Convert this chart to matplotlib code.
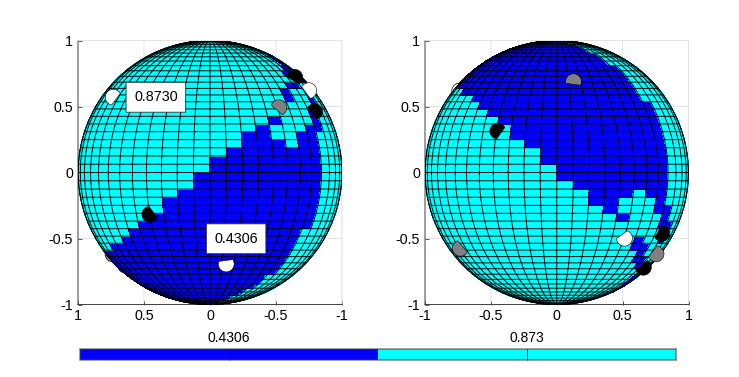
import numpy as np
import matplotlib
matplotlib.use("Agg")
import matplotlib.pyplot as plt
from matplotlib.colors import ListedColormap

plt.rcParams['font.family'] = ['Liberation Sans', 'DejaVu Sans']
plt.rcParams['axes.unicode_minus'] = False
plt.rcParams['path.snap'] = False

W, H = 739, 377
BLUE, CYAN = '#0000ff', '#00ffff'

# Mesh: rows from north (k=24) to south (k=-25), each a list of blue spans in longitude-line indices
left_north = [[], [], [], [], [], [], [], [(11, 13)], [(10, 12)], [(10, 12)], [(9, 12)], [(8, 12)],
              [(9, 13)], [(7, 9)], [(6, 7)], [(6, 7), (9, 10)], [(9, 10)], [(8, 9)], [(4, 5), (8, 9)],
              [(3, 4), (7, 9)], [(2, 4), (6, 8)], [(2, 5), (6, 8)], [(1, 8)], [(0, 8)], [(0, 8)]]
left_south = [[(-1, 8)], [(-1, 8)], [(-2, 8)], [(-3, 8)], [(-3, 8)], [(-4, 8)], [(-5, 8)], [(-6, 7)],
              [(-7, 7)], [(-9, 7)], [(-13, 7)], [(-13, 7)], [(-13, 7)], [(-13, 7)], [(-13, 6)],
              [(-13, 6)], [(-13, 6)], [(-13, 5)], [(-13, 5)], [(-13, 4)], [(-13, 4)], [(-13, 3)],
              [(-13, 3)], [(-13, 2)], [(-13, -1)]]
right_north = [[(-13, 1)], [(-13, 2)], [(-13, 3)], [(-13, 4)], [(-13, 5)], [(-13, 5)], [(-13, 5)],
               [(-13, 6)], [(-13, 6)], [(-13, 6)], [(-13, 7)], [(-13, 7)], [(-13, 7)], [(-13, 7)],
               [(-9, 7)], [(-7, 7)], [(-6, 8)], [(-5, 8)], [(-4, 8)], [(-3, 8)], [(-3, 8)], [(-2, 8)],
               [(-1, 8)], [(-1, 8)], [(0, 8)]]
right_south = [[(0, 8)], [(1, 8)], [(2, 5), (6, 8)], [(2, 4), (7, 8)], [(3, 4), (7, 9)], [(4, 5), (8, 9)],
               [(8, 10)], [(9, 10)], [(6, 7), (9, 10)], [(6, 8)], [(7, 8)], [(7, 9)], [(8, 9)],
               [(10, 12)], [(10, 12)], [(10, 12)], [(11, 13)], [(11, 13)], [], [], [], [], [], [], []]

# Caps: x, y, arc start, arc end (degrees on screen), colour
left_caps = [(.733, .570, 28, 258, 'white'), (-.642, .721, -58, 175, 'black'), (-.748, .620, -79, 152, 'white'),
             (-.521, .491, -63, 162, 'gray'), (-.792, .461, -76, 150, 'black'), (.456, -.317, 96, 338, 'black'),
             (-.123, -.693, 161, 394, 'white')]
left_hidden = [(.735, -.617, 'gray'), (.639, -.702, 'black')]
right_caps = [(.127, .688, -27, 192, 'gray'), (-.448, .314, 27, 262, 'black'), (-.731, -.574, 109, 331, 'gray'),
              (.514, -.498, 182, 430, 'white'), (.797, -.461, 210, 451, 'black'), (.754, -.617, 201, 444, 'gray'),
              (.658, -.718, 194, 420, 'black')]
right_hidden = [(-.737, .617, 'white'), (-.624, .692, 'black')]

tick_values = [-1, -.5, 0, .5, 1]
tick_labels = ['-1', '-0.5', '0', '0.5', '1']
bar_values = ['0.4306', '0.873']
left_labels = [(.41, .57, '0.8730'), (-.198, -.502, '0.4306')]
CAP_R = .06

lon_lines = np.clip(np.arange(-13, 14) * 7.2, -90, 90)
lat_lines = np.arange(-25, 26) * 3.6


def axes_px(x0, x1, y0, y1):
    return fig.add_axes([x0 / W, 1 - y1 / H, (x1 - x0) / W, (y1 - y0) / H])


def grid_colors(north, south):
    m = np.zeros((50, 26))
    # north[0] is k=24 ... north[24] is k=0; south[0] is k=-1 ... south[24] is k=-25
    for i, spans in enumerate(north):
        r = 25 + (24 - i)
        for a, b in spans:
            m[r, a + 13:b + 13] = 1
    for n, spans in enumerate(south):
        r = 24 - n
        for a, b in spans:
            m[r, a + 13:b + 13] = 1
    return m


def draw(ax, north, south, caps, hidden, flip):
    sign = -1 if flip else 1
    u, v = np.meshgrid(np.radians(lon_lines), np.radians(lat_lines))
    X = sign * np.cos(v) * np.sin(u)
    Y = np.sin(v)
    for hx, hy, c in hidden:
        t = np.radians(np.linspace(0, 360, 60))
        ax.fill(hx + CAP_R * np.cos(t), hy + CAP_R * np.sin(t), fc=c, ec='black', lw=.5, zorder=2)
    ax.pcolormesh(X, Y, grid_colors(north, south), cmap=ListedColormap([CYAN, BLUE]), vmin=0, vmax=1,
                  edgecolors='face', linewidth=.2, zorder=3)
    # mesh lines, finely sampled so that they follow the sphere
    fu = np.radians(np.linspace(-90, 90, 181))
    fv = np.radians(np.linspace(-90, 90, 181))
    for lat in np.radians(lat_lines):
        ax.plot(sign * np.cos(lat) * np.sin(fu), np.full_like(fu, np.sin(lat)), color='black', lw=.65, zorder=3.5,
                solid_capstyle='butt')
    for lon in np.radians(lon_lines):
        ax.plot(sign * np.cos(fv) * np.sin(lon), np.sin(fv), color='black', lw=.65, zorder=3.5,
                solid_capstyle='butt')
    for cx, cy, a0, a1, c in caps:
        t = np.radians(np.linspace(a0, a1, 50))
        ax.fill(cx + sign * CAP_R * np.cos(t), cy + CAP_R * np.sin(t), fc=c, ec='black', lw=.4, zorder=4)
    ax.set_xlim((1, -1) if flip else (-1, 1))
    ax.set_ylim(-1, 1)
    ax.set_xticks(tick_values, tick_labels)
    ax.set_yticks(tick_values, tick_labels)
    ax.grid(True, color='#e3e3e3', lw=.7, zorder=0)
    ax.set_axisbelow(True)
    ax.tick_params(direction='in', length=2.6, width=.6, color='#404040', labelsize=10.3, pad=3.5)
    for s in ('left', 'bottom'):
        ax.spines[s].set_color('#404040')
        ax.spines[s].set_linewidth(.7)
    for s in ('top', 'right'):
        ax.spines[s].set_color('#e3e3e3')
        ax.spines[s].set_linewidth(.7)
    ax.patch.set_alpha(0)


fig = plt.figure(figsize=(W / 100, H / 100), dpi=100)
axl = axes_px(78, 342, 40.5, 304.5)
axr = axes_px(425, 688.5, 40.5, 304.5)
draw(axl, left_north, left_south, left_caps, left_hidden, True)
draw(axr, right_north, right_south, right_caps, right_hidden, False)
for x, y, s in left_labels:
    axl.text(x, y, s, ha='center', va='center', fontsize=10.4, zorder=6,
             bbox=dict(boxstyle='square,pad=0.55', fc='white', ec='#303030', lw=.6))

axc = axes_px(80, 676, 349, 360)
axc.pcolormesh([0, 1, 2], [0, 1], [[0, 1]], cmap=ListedColormap([BLUE, CYAN]))
axc.set_xlim(0, 2)
axc.set_ylim(0, 1)
axc.set_yticks([])
axc.set_xticks([.5, 1.5], bar_values)
axc.xaxis.tick_top()
axc.tick_params(axis='x', direction='in', length=7.9, width=.6, color='black', labelsize=10, pad=3)
for s in axc.spines.values():
    s.set_color('#404040')
    s.set_linewidth(.7)

fig.savefig('out.png', dpi=100)
